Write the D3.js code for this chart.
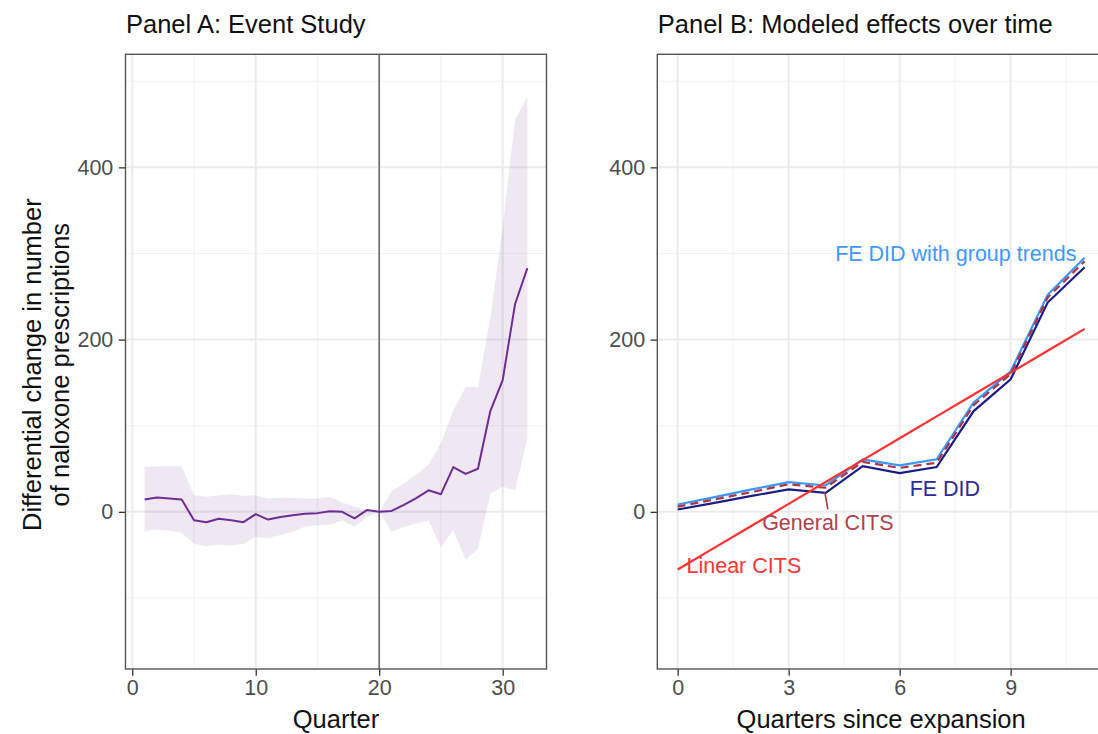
<!DOCTYPE html>
<html>
<head>
<meta charset="utf-8">
<script src="https://cdn.jsdelivr.net/npm/d3@7"></script>
<style>
  html, body { margin: 0; padding: 0; background: #fff; }
  svg { display: block; font-family: "Liberation Sans", Arial, Helvetica, sans-serif; }
</style>
</head>
<body>
<svg id="chart" width="1098" height="734"></svg>
<script>
// ---------------- Data ----------------
// Panel A: event study
const quarters = [1,2,3,4,5,6,7,8,9,10,11,12,13,14,15,16,17,18,19,20,21,22,23,24,25,26,27,28,29,30,31,32];
const estimateA = [14.3,16.7,15.5,14.3,-9.7,-12,-8,-9.7,-12,-2.7,-9,-6,-4,-2.3,-1.5,0.8,0,-7.5,2,0,1,8,16,25,20.5,52,44,50,117,153,241,283];
const lowerA = [-22.5,-20.5,-22,-24.4,-37,-40,-38,-39,-37,-29,-31,-27,-23,-17,-15.5,-15,-10,-17.4,-6,0,-23,-17.4,-13.6,-10,-41,-21,-56,-43,21,29,25,85];
const upperA = [52,53,53,53,19.4,17.4,19.4,20.5,18.6,19.4,15.5,16.3,16,15.5,15.5,17.4,11,6,2,0,24,33,43,55,80,118,145,145,225,330,455,482];
const eventQuarter = 20;

// Panel B: modeled effects
const quartersSince = [0,1,2,3,4,5,6,7,8,9,10,11];
const feDid = [2.7,10.5,18.5,26,22,53,45,52,117,154,243,284];
const feDidTrends = [8.5,17,26,34.5,30.6,61,54,61,127,163,252,295];
const generalCits = [6,14.5,23,32,28,58,51,57,124,160,249,291];
const linearCits = [-67,-41.6,-16.2,9.2,34.6,60,85.4,110.8,136.2,161.6,187,212.4];

// Tick labels
const yTicks = [0, 200, 400];
const yMinor = [-100, 100, 300, 500];
const xTicksA = [0, 10, 20, 30];
const xMinorA = [5, 15, 25];
const xTicksB = [0, 3, 6, 9];
const xMinorB = [1.5, 4.5, 7.5, 10.5];

// Series label annotations (data coordinates)
const seriesLabels = [
  {text: "FE DID with group trends", x: 10.78, y: 291, anchor: "end", key: "trends"},
  {text: "FE DID", x: 6.27, y: 18.5, anchor: "start", key: "fedid"},
  {text: "General CITS", x: 4.06, y: -21, anchor: "middle", key: "general"},
  {text: "Linear CITS", x: 0.24, y: -71, anchor: "start", key: "linear"}
];

// ---------------- Styles ----------------
const colors = {
  bandA: "#7b3fa0",
  lineA: "#6e2c96",
  fedid: "#1b1b8a",
  trends: "#3a97ff",
  general: "#ad3440",
  linear: "#ff3030",
  fedidText: "#2b2b99",
  trendsText: "#3f98ff",
  generalText: "#b3404c",
  linearText: "#ff3535"
};
const FONT_TITLE = 25.5;
const FONT_TICK = 21.5;

const svg = d3.select("#chart");

// y scale shared range
const yTop = 54.3, yBottom = 669;
const yDomain = [-182.5, 531.3];

function drawPanel(opts) {
  const {x0, x1, xDomain, xTicks, xMinor, title, xTitle} = opts;
  const x = d3.scaleLinear().domain(xDomain).range([x0, x1]);
  const y = d3.scaleLinear().domain(yDomain).range([yBottom, yTop]);
  const g = svg.append("g");

  const clipId = "clip" + Math.round(x0);
  svg.append("defs").append("clipPath").attr("id", clipId)
    .append("rect").attr("x", x0).attr("y", yTop).attr("width", x1 - x0).attr("height", yBottom - yTop);

  const grid = g.append("g");
  // minor grid
  grid.selectAll(".ym").data(yMinor).join("line")
    .attr("x1", x0).attr("x2", x1).attr("y1", d => y(d)).attr("y2", d => y(d))
    .attr("stroke", "#f2f2f2").attr("stroke-width", 1.1);
  grid.selectAll(".xm").data(xMinor).join("line")
    .attr("y1", yTop).attr("y2", yBottom).attr("x1", d => x(d)).attr("x2", d => x(d))
    .attr("stroke", "#f2f2f2").attr("stroke-width", 1.1);
  // major grid
  grid.selectAll(".yM").data(yTicks).join("line")
    .attr("x1", x0).attr("x2", x1).attr("y1", d => y(d)).attr("y2", d => y(d))
    .attr("stroke", "#ebebeb").attr("stroke-width", 2);
  grid.selectAll(".xM").data(xTicks).join("line")
    .attr("y1", yTop).attr("y2", yBottom).attr("x1", d => x(d)).attr("x2", d => x(d))
    .attr("stroke", "#ebebeb").attr("stroke-width", 2);

  const plot = g.append("g").attr("clip-path", `url(#${clipId})`);

  // axes
  const yAxis = d3.axisLeft(y).tickValues(yTicks).tickSize(6.7).tickPadding(5.5);
  const ya = g.append("g").attr("transform", `translate(${x0},0)`).call(yAxis);
  ya.select(".domain").remove();
  ya.selectAll(".tick line").attr("stroke", "#333").attr("stroke-width", 1.3);
  ya.selectAll(".tick text").attr("fill", "#4d4d4d").style("font-size", FONT_TICK + "px")
    .style("font-family", "'Liberation Sans', Arial, sans-serif");

  const xAxis = d3.axisBottom(x).tickValues(xTicks).tickSize(6.7).tickPadding(4.5);
  const xa = g.append("g").attr("transform", `translate(0,${yBottom})`).call(xAxis);
  xa.select(".domain").remove();
  xa.selectAll(".tick line").attr("stroke", "#333").attr("stroke-width", 1.3);
  xa.selectAll(".tick text").attr("fill", "#4d4d4d").style("font-size", FONT_TICK + "px")
    .style("font-family", "'Liberation Sans', Arial, sans-serif");

  // title
  g.append("text").attr("x", x0 + 0.5).attr("y", 33).text(title)
    .attr("fill", "#111").style("font-size", FONT_TITLE + "px");
  // x title
  g.append("text").attr("x", (x0 + Math.min(x1, 1098 + (x1 - 1098))) / 2).attr("y", 728)
    .attr("text-anchor", "middle").text(xTitle)
    .attr("fill", "#111").style("font-size", FONT_TITLE + "px");

  return {g, plot, x, y, border: () => {
    g.append("rect").attr("x", x0).attr("y", yTop).attr("width", x1 - x0).attr("height", yBottom - yTop)
      .attr("fill", "none").attr("stroke", "#555").attr("stroke-width", 1.4);
  }};
}

// ---------------- Panel A ----------------
const A = drawPanel({
  x0: 125.5, x1: 546.5, xDomain: [-0.55, 33.55],
  xTicks: xTicksA, xMinor: xMinorA,
  title: "Panel A: Event Study", xTitle: "Quarter"
});
const dataA = quarters.map((q, i) => ({q, est: estimateA[i], lo: lowerA[i], hi: upperA[i]}));
A.plot.append("path").datum(dataA)
  .attr("d", d3.area().x(d => A.x(d.q)).y0(d => A.y(d.lo)).y1(d => A.y(d.hi)))
  .attr("fill", colors.bandA).attr("fill-opacity", 0.12);
A.plot.append("line")
  .attr("x1", A.x(eventQuarter)).attr("x2", A.x(eventQuarter))
  .attr("y1", yTop).attr("y2", yBottom)
  .attr("stroke", "#6b6b6b").attr("stroke-width", 1.6);
A.plot.append("path").datum(dataA)
  .attr("d", d3.line().x(d => A.x(d.q)).y(d => A.y(d.est)))
  .attr("fill", "none").attr("stroke", colors.lineA).attr("stroke-width", 2)
  .attr("stroke-linejoin", "round");
A.border();

// y-axis title (two lines)
const yt = svg.append("text")
  .attr("transform", `translate(41,${(yTop + yBottom) / 2 + 3}) rotate(-90)`)
  .attr("text-anchor", "middle").attr("fill", "#111").style("font-size", FONT_TITLE + "px");
yt.append("tspan").attr("x", 0).attr("y", 0).text("Differential change in number");
yt.append("tspan").attr("x", 0).attr("y", 0).attr("dy", 27.5).text("of naloxone prescriptions");

// ---------------- Panel B ----------------
const B = drawPanel({
  x0: 657.3, x1: 1105, xDomain: [-0.55, 11.55],
  xTicks: xTicksB, xMinor: xMinorB,
  title: "Panel B: Modeled effects over time", xTitle: "Quarters since expansion"
});
// fix x title centering to panel centre (panel extends beyond view)
B.g.selectAll("text").filter(function() { return d3.select(this).text() === "Quarters since expansion"; })
  .attr("x", (657.3 + 1105) / 2);

const lineB = d3.line().x(d => B.x(d[0])).y(d => B.y(d[1]));
function seriesPts(vals) { return quartersSince.map((q, i) => [q, vals[i]]); }

B.plot.append("path").datum(seriesPts(feDid)).attr("d", lineB)
  .attr("fill", "none").attr("stroke", colors.fedid).attr("stroke-width", 2.2);
B.plot.append("path").datum(seriesPts(feDidTrends)).attr("d", lineB)
  .attr("fill", "none").attr("stroke", colors.trends).attr("stroke-width", 2.2);
B.plot.append("path").datum(seriesPts(generalCits)).attr("d", lineB)
  .attr("fill", "none").attr("stroke", colors.general).attr("stroke-width", 2.2)
  .attr("stroke-dasharray", "8,5");
B.plot.append("path").datum(seriesPts(linearCits)).attr("d", lineB)
  .attr("fill", "none").attr("stroke", colors.linear).attr("stroke-width", 2.2);

// leader segment for General CITS label
B.plot.append("line")
  .attr("x1", B.x(3.98)).attr("y1", B.y(22.5))
  .attr("x2", B.x(4.06)).attr("y2", B.y(2.8))
  .attr("stroke", colors.general).attr("stroke-width", 1.6);

const textColor = {trends: colors.trendsText, fedid: colors.fedidText, general: colors.generalText, linear: colors.linearText};
B.g.selectAll(".slab").data(seriesLabels).join("text")
  .attr("x", d => B.x(d.x)).attr("y", d => B.y(d.y))
  .attr("text-anchor", d => d.anchor)
  .attr("fill", d => textColor[d.key])
  .style("font-size", FONT_TICK + "px")
  .text(d => d.text);

B.border();
</script>
</body>
</html>
